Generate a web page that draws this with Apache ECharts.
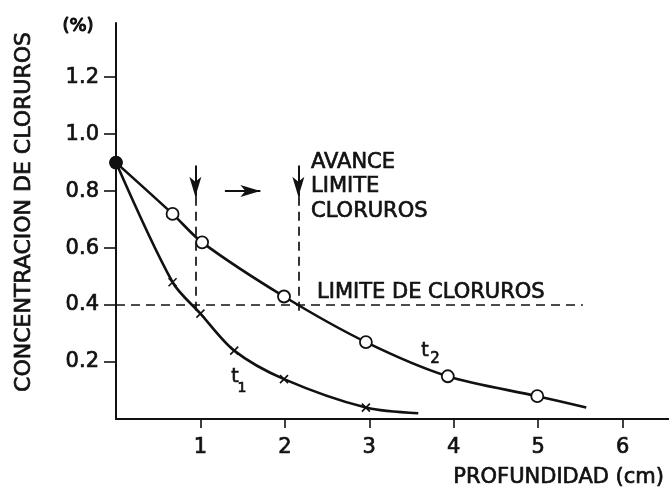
<!DOCTYPE html>
<html>
<head>
<meta charset="utf-8">
<title>Concentración de cloruros</title>
<script src="https://cdn.jsdelivr.net/npm/echarts@6/dist/echarts.min.js"></script>
<style>
  html, body { margin: 0; padding: 0; background: #fff; }
  #main { width: 669px; height: 490px; }
</style>
</head>
<body>
<div id="main"></div>
<script>
// valores (profundidad en cm, concentracion en %)
var depthT1 = [0, 0.67, 1.0, 1.40, 1.99, 2.96, 3.58];
var chlorT1 = [0.90, 0.48, 0.37, 0.24, 0.14, 0.04, 0.02];
var depthT2 = [0, 0.67, 1.02, 1.99, 2.96, 3.93, 4.99, 5.57];
var chlorT2 = [0.90, 0.72, 0.62, 0.43, 0.27, 0.15, 0.08, 0.04];
var xTicks = [1, 2, 3, 4, 5, 6];
var yTicks = [0.2, 0.4, 0.6, 0.8, 1.0, 1.2];

// limite de cloruros y avance del frente
var limitLevel = 0.4;
var limitEnd = 5.53;
var frontT1 = 0.94, frontT2 = 2.16;
var arrowTop = 0.89, arrowTip = 0.78;
var advanceFrom = 1.29, advanceTo = 1.71, advanceLevel = 0.80;

var ink = '#111';
var font = 'DejaVu Sans';
// trazo fino alrededor del texto para imitar el grosor del escaneo
var thick = { textBorderColor: ink, textBorderWidth: 0.7 };

function pairs(xs, ys) {
  var out = [];
  for (var i = 0; i < xs.length; i++) out.push([xs[i], ys[i]]);
  return out;
}

function label(txt, x, y, size, extra) {
  var style = {
    text: txt, fontSize: size, fontFamily: font, fill: ink,
    stroke: ink, lineWidth: 0.7,
    align: 'center', verticalAlign: 'middle'
  };
  for (var k in extra) style[k] = extra[k];
  return { type: 'text', x: x, y: y, style: style };
}

var chart = echarts.init(document.getElementById('main'));

var option = {
  animation: false,
  backgroundColor: '#fff',
  grid: { left: 116, right: 0, top: 23, bottom: 71 },
  xAxis: {
    type: 'value',
    min: 0,
    max: 6.55,
    splitLine: { show: false },
    axisLine: { show: true, lineStyle: { color: ink, width: 2 } },
    axisTick: { show: true, length: 9, customValues: xTicks, lineStyle: { color: ink, width: 1.6 } },
    axisLabel: Object.assign({ customValues: xTicks, margin: 18, color: ink, fontSize: 21, fontFamily: font }, thick)
  },
  yAxis: {
    type: 'value',
    min: 0,
    max: 1.39,
    splitLine: { show: false },
    axisLine: { show: true, lineStyle: { color: ink, width: 2 } },
    axisTick: { show: true, length: 12, customValues: yTicks, lineStyle: { color: ink, width: 1.6 } },
    axisLabel: Object.assign({
      customValues: yTicks, margin: 17, color: ink, fontSize: 21, fontFamily: font,
      formatter: function (v) { return v.toFixed(1); }
    }, thick)
  },
  series: [
    {
      name: 't1',
      type: 'line',
      data: pairs(depthT1, chlorT1),
      smooth: 0.3,
      showAllSymbol: true,
      symbol: 'path://M0,0L10,10M10,0L0,10',
      symbolSize: function (v, p) {
        return (p.dataIndex === 0 || p.dataIndex === depthT1.length - 1) ? 0 : 8;
      },
      itemStyle: { color: ink, borderColor: ink, borderWidth: 1.6 },
      lineStyle: { color: ink, width: 2.6 },
      emphasis: { disabled: true },
      markLine: {
        silent: true,
        symbol: ['none', 'none'],
        label: { show: false },
        lineStyle: { color: ink, width: 1.7, type: [9, 6] },
        data: [
          [{ coord: [0, limitLevel] }, { coord: [limitEnd, limitLevel] }],
          [{ coord: [frontT1, arrowTip] }, { coord: [frontT1, limitLevel - 0.02] }],
          [{ coord: [frontT2, arrowTip] }, { coord: [frontT2, limitLevel - 0.02] }]
        ]
      }
    },
    {
      name: 't2',
      type: 'line',
      data: pairs(depthT2, chlorT2),
      smooth: 0.3,
      showAllSymbol: true,
      symbol: 'circle',
      symbolSize: function (v, p) {
        return p.dataIndex === depthT2.length - 1 ? 0 : 12;
      },
      itemStyle: { color: '#fff', borderColor: ink, borderWidth: 1.8 },
      lineStyle: { color: ink, width: 2.6 },
      emphasis: { disabled: true },
      z: 3,
      markLine: {
        silent: true,
        symbol: ['none', 'arrow'],
        symbolSize: [9, 20],
        label: { show: false },
        lineStyle: { color: ink, width: 2, type: 'solid' },
        data: [
          [{ coord: [frontT1, arrowTop] }, { coord: [frontT1, arrowTip] }],
          [{ coord: [frontT2, arrowTop] }, { coord: [frontT2, arrowTip] }],
          [{ coord: [advanceFrom, advanceLevel] }, { coord: [advanceTo, advanceLevel] }]
        ]
      }
    },
    {
      // punto de partida comun
      name: 'inicio',
      type: 'scatter',
      data: [[depthT2[0], chlorT2[0]]],
      symbol: 'circle',
      symbolSize: 13,
      itemStyle: { color: ink, opacity: 1 },
      emphasis: { disabled: true },
      z: 5
    }
  ],
  graphic: [
    (function () {
      var g = label('CONCENTRACION DE CLORUROS', 24, 212, 22, {});
      g.rotation = Math.PI / 2;
      return g;
    })(),
    label('(%)', 78, 26, 18, { lineWidth: 1.2 }),
    label('PROFUNDIDAD (cm)', 664, 478, 21, { align: 'right' }),
    label('AVANCE\nLIMITE\nCLORUROS', 311, 150, 21, { align: 'left', verticalAlign: 'top', lineHeight: 24.5 }),
    label('LIMITE DE CLORUROS', 317, 293, 21, { align: 'left' }),
    label('t', 235, 377, 19, {}),
    label('1', 242, 388, 14, {}),
    label('t', 425, 351, 19, {}),
    label('2', 435, 359, 15, {})
  ]
};

chart.setOption(option);
</script>
</body>
</html>
